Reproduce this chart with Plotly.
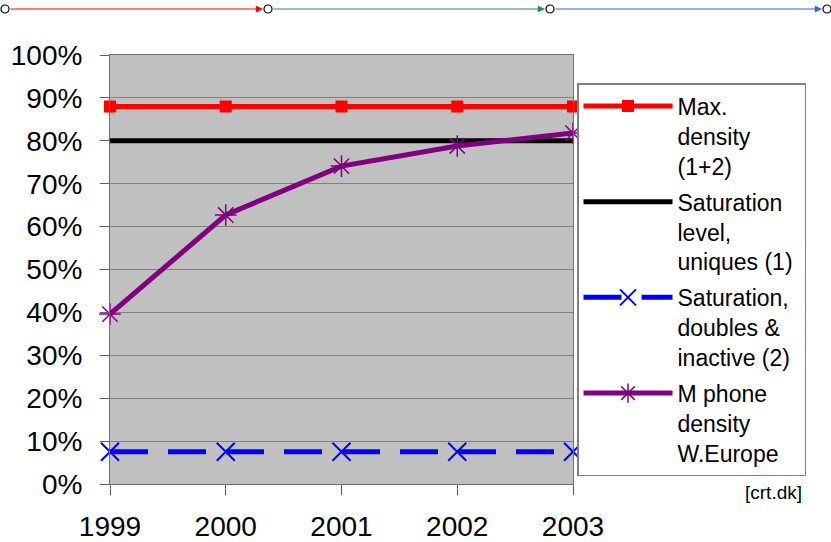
import plotly.graph_objects as go

years = [1999, 2000, 2001, 2002, 2003]
max_density = [0.88, 0.88, 0.88, 0.88, 0.88]
saturation_uniques = [0.80, 0.80, 0.80, 0.80, 0.80]
saturation_doubles = [0.075, 0.075, 0.075, 0.075, 0.075]
mphone_density = [0.396, 0.627, 0.741, 0.788, 0.818]

names = [
    "Max.<br>density<br>(1+2)",
    "Saturation<br>level,<br>uniques (1)&nbsp;",
    "Saturation,<br>doubles &<br>inactive (2)&nbsp;",
    "M phone<br>density<br>W.Europe",
]

FONT = "Liberation Sans, Arial, sans-serif"
W, H = 831, 542
L, R, T, B = 110, 258, 55, 58
PW, PH = W - L - R, H - T - B


def px(xp):
    return (xp - L) / PW


def py(yp):
    return (H - B - yp) / PH


fig = go.Figure()
fig.add_trace(go.Scatter(
    x=years, y=max_density, name=names[0], mode="lines+markers", legendgroup="a",
    line=dict(color="#ff0000", width=5),
    marker=dict(symbol="square", size=12, color="#ff0000"),
    cliponaxis=False))
fig.add_trace(go.Scatter(
    x=years, y=saturation_uniques, name=names[1], mode="lines", legendgroup="b",
    line=dict(color="#000000", width=5), cliponaxis=False))
fig.add_trace(go.Scatter(
    x=years, y=saturation_doubles, name=names[2], mode="lines+markers", legendgroup="c",
    line=dict(color="#0000ff", width=5, dash="38px,20px"),
    marker=dict(symbol="x-thin", size=18, color="#0000ff",
                line=dict(color="#0000ff", width=2)),
    cliponaxis=False))
fig.add_trace(go.Scatter(
    x=years, y=mphone_density, name=names[3], mode="lines+markers", legendgroup="d",
    line=dict(color="#800080", width=5),
    marker=dict(symbol="asterisk", size=18, color="#800080",
                line=dict(color="#800080", width=1.5)),
    cliponaxis=False))

# decorative arrow strip at top
yy = py(9)
pts = [5, 268, 550, 827]
cols = ["#ff0000", "#2e8b57", "#2f5fff"]
for i, c in enumerate(cols):
    x_end = pts[i + 1] - 5
    x_start = pts[i] + 4
    fig.add_annotation(x=px(x_end), y=yy, xref="paper", yref="paper",
                       ax=-(x_end - x_start), ay=0, axref="pixel", ayref="pixel",
                       showarrow=True, arrowhead=2, arrowsize=1.2, arrowwidth=1.2,
                       arrowcolor=c, text="")
for p in pts:
    fig.add_shape(type="circle", xref="paper", yref="paper",
                  x0=px(p - 4), x1=px(p + 4), y0=py(5), y1=py(13),
                  line=dict(color="#000000", width=1.2), fillcolor="white")

fig.add_annotation(x=px(804), y=py(492), xref="paper", yref="paper",
                   text="[crt.dk]", showarrow=False, xanchor="right",
                   yanchor="middle", font=dict(family=FONT, size=19, color="#000"))

fig.update_layout(
    width=W, height=H,
    margin=dict(l=L, r=R, t=T, b=B, autoexpand=False),
    paper_bgcolor="white", plot_bgcolor="#c0c0c0",
    font=dict(family=FONT, color="#000"),
    showlegend=True,
    legend=dict(x=px(577), y=py(83), xanchor="left", yanchor="top",
                bgcolor="white", bordercolor="#808080", borderwidth=1.5,
                font=dict(family=FONT, size=23, color="#000"),
                itemwidth=89, valign="top", tracegroupgap=3,
                traceorder="grouped"),
    xaxis=dict(range=[1999, 2003], tickvals=years, ticktext=[str(y) for y in years],
               showgrid=False, zeroline=False, showline=True, linecolor="#707070",
               linewidth=1, mirror=True, ticks="outside", ticklen=10,
               tickcolor="#606060", ticklabelstandoff=7,
               tickfont=dict(family=FONT, size=28)),
    yaxis=dict(range=[0, 1], dtick=0.1, tickformat=".0%", showgrid=True,
               gridcolor="#808080", gridwidth=1, zeroline=False, showline=True,
               linecolor="#707070", linewidth=1, mirror=True, ticks="outside",
               ticklen=9, tickcolor="#606060", ticklabelstandoff=12,
               tickfont=dict(family=FONT, size=28)),
)

fig.write_html("out.html", config={"displayModeBar": False},
               post_script="document.body.style.margin='0';")
